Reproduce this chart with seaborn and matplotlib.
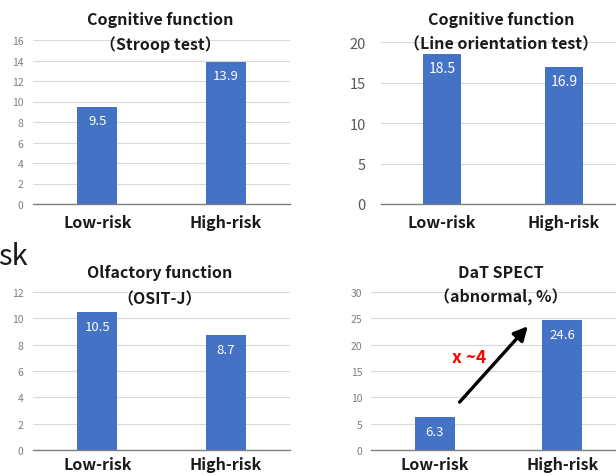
import matplotlib
matplotlib.use("Agg")
import matplotlib.pyplot as plt
import seaborn as sns
import pandas as pd

sns.set_theme(style="white")
plt.rcParams['font.family'] = ['Noto Sans CJK JP', 'DejaVu Sans']

groups = ["Low-risk", "High-risk"]
stroop = [9.5, 13.9]
line_orient = [18.5, 16.9]
osit = [10.5, 8.7]
dat_spect = [6.3, 24.6]

titles = [
    ("Cognitive function", "（Stroop test）"),
    ("Cognitive function", "（Line orientation test）"),
    ("Olfactory function", "（OSIT-J）"),
    ("DaT SPECT", "（abnormal, %）"),
]
yticks_list = [
    [0, 2, 4, 6, 8, 10, 12, 14, 16],
    [0, 5, 10, 15, 20],
    [0, 2, 4, 6, 8, 10, 12],
    [0, 5, 10, 15, 20, 25, 30],
]

BLUE = "#4472C4"
W, H = 616, 477
fig = plt.figure(figsize=(W / 100, H / 100), dpi=100)


def add_ax(left, right, bottom, top):
    return fig.add_axes([left / W, 1 - bottom / H, (right - left) / W, (bottom - top) / H])


specs = [
    (33, 290, 205, 41, 7.5, "#7f7f7f", 7, stroop),
    (381, 625, 205, 43, 10.5, "#595959", 11, line_orient),
    (33, 290, 451, 293, 7.5, "#7f7f7f", 7, osit),
    (371, 626, 451, 293, 7.5, "#7f7f7f", 6, dat_spect),
]
# (center x, line1 y, line2 y) in pixels
title_pos = [(160, 20, 45), (501, 20, 44), (160, 273, 299), (501, 273, 297)]

axes = []
for i, (l, r, b, t, fs, tc, pad, vals) in enumerate(specs):
    ax = add_ax(l, r, b, t)
    df = pd.DataFrame({"group": groups, "value": vals})
    sns.barplot(data=df, x="group", y="value", color=BLUE, saturation=1,
                width=0.31, ax=ax, edgecolor="none")
    yt = yticks_list[i]
    ax.set_ylim(0, yt[-1])
    ax.set_yticks(yt)
    ax.set_xlim(-0.5, 1.5)
    ax.grid(axis="y", color="#d9d9d9", linewidth=0.8)
    ax.set_axisbelow(True)
    for s in ["left", "right", "top"]:
        ax.spines[s].set_visible(False)
    ax.spines["bottom"].set_color("#7f7f7f")
    ax.spines["bottom"].set_linewidth(1.0)
    ax.tick_params(axis="y", length=0, labelsize=fs, labelcolor=tc, pad=pad)
    ax.tick_params(axis="x", length=0, labelsize=11.5, pad=7 if i < 2 else 4)
    for lab in ax.get_xticklabels():
        lab.set_fontweight("bold")
        lab.set_color("#1a1a1a")
    ax.set_xlabel("")
    ax.set_ylabel("")
    ax.bar_label(ax.containers[0], labels=[f"{v}" for v in vals], padding=-15,
                 color="white", fontsize=9.5 if i != 1 else 10)
    tx, ty1, ty2 = title_pos[i]
    fig.text(tx / W, 1 - ty1 / H, titles[i][0], ha="center", va="center",
             fontsize=11.5, fontweight="bold", color="#1a1a1a")
    fig.text(tx / W, 1 - ty2 / H, titles[i][1], ha="center", va="center",
             fontsize=11.5, fontweight="bold", color="#1a1a1a")
    axes.append(ax)

# annotation arrow in DaT SPECT panel
ax4 = axes[3]
ax4.annotate("", xy=(0.745, 23.9), xytext=(0.18, 8.7),
             arrowprops=dict(arrowstyle="-|>,head_length=0.7,head_width=0.35",
                             color="black", lw=2.4))
ax4.text(0.27, 17.7, "x ~4", color="#ff0000", fontsize=12.5, fontweight="bold",
         ha="center", va="center")

fig.text(-0.003, 1 - 257 / H, "sk", fontsize=21, ha="left", va="center", color="#1a1a1a")

fig.savefig("out.png", dpi=100)
